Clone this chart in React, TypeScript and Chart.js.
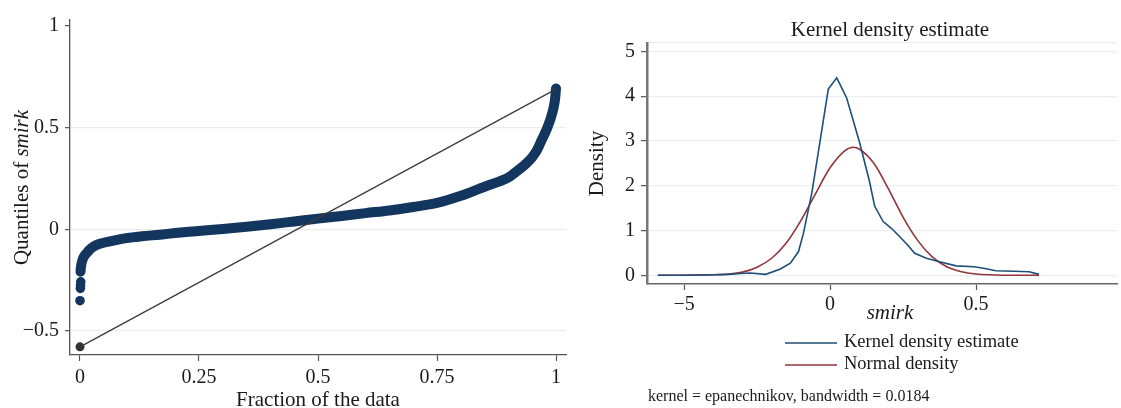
import React, { useEffect, useRef } from "react";
import { Chart, registerables } from "chart.js";

Chart.register(...registerables);

const FONT = "'Liberation Serif', 'DejaVu Serif', serif";
const TEXT = "#1a1a1a";
const NAVY = "#13365f";
const KDE_BLUE = "#1f4e79";
const NORM_RED = "#93343b";

// ---- Left panel: quantile plot of smirk ----
const QUANT_TAIL_FRAC = [0, 0.0008, 0.0012, 0.0016];
const QUANT_TAIL_VAL = [-0.351, -0.29, -0.275, -0.258];
const QUANT_FRAC = [
  0.001, 0.002, 0.004, 0.007, 0.01, 0.014, 0.02, 0.028, 0.04, 0.063, 0.098, 0.13, 0.168, 0.2, 0.238, 0.3,
  0.35, 0.4, 0.45, 0.5, 0.55, 0.6, 0.65, 0.7, 0.75, 0.8, 0.85, 0.88, 0.9, 0.92, 0.94, 0.95, 0.96, 0.97,
  0.98, 0.985, 0.99, 0.995, 0.998, 1.0,
];
const QUANT_VAL = [
  -0.208, -0.185, -0.16, -0.14, -0.128, -0.117, -0.1, -0.085, -0.072, -0.059, -0.043, -0.034, -0.026,
  -0.018, -0.01, 0.002, 0.013, 0.025, 0.039, 0.053, 0.066, 0.08, 0.093, 0.11, 0.13, 0.165, 0.21, 0.235,
  0.255, 0.29, 0.33, 0.355, 0.39, 0.44, 0.49, 0.52, 0.555, 0.6, 0.64, 0.693,
];
const REF_FRAC = [0, 1];
const REF_VAL = [-0.578, 0.69];
const LEFT_Y_TICKS = [-0.5, 0, 0.5, 1];
const LEFT_Y_LABELS = ["\u22120.5", "0", "0.5", "1"];
const LEFT_X_TICKS = [0, 0.25, 0.5, 0.75, 1];
const LEFT_X_LABELS = ["0", "0.25", "0.5", "0.75", "1"];

// ---- Right panel: kernel density estimate ----
const KDE_X = [
  -0.59, -0.5, -0.4, -0.35, -0.307, -0.273, -0.22, -0.17, -0.136, -0.108, -0.091, -0.062, -0.034, -0.006,
  0.023, 0.057, 0.102, 0.135, 0.153, 0.182, 0.21, 0.239, 0.265, 0.29, 0.33, 0.375, 0.432, 0.494, 0.53,
  0.568, 0.63, 0.682, 0.716,
];
const KDE_Y = [
  0.0, 0.0, 0.01, 0.02, 0.04, 0.05, 0.02, 0.14, 0.27, 0.53, 0.94, 1.85, 3.0, 4.16, 4.41, 3.96, 2.95, 2.1,
  1.54, 1.2, 1.05, 0.86, 0.68, 0.49, 0.38, 0.3, 0.21, 0.19, 0.15, 0.1, 0.09, 0.08, 0.02,
];
const NORM_X = [
  -0.59, -0.5, -0.4, -0.35, -0.3, -0.25, -0.2, -0.15, -0.1, -0.05, 0, 0.05, 0.08, 0.1, 0.15, 0.2, 0.25, 0.3,
  0.35, 0.4, 0.45, 0.5, 0.55, 0.6, 0.65, 0.716,
];
const NORM_Y = [
  0.0, 0.0, 0.01, 0.025, 0.07, 0.18, 0.38, 0.72, 1.22, 1.82, 2.4, 2.78, 2.86, 2.82, 2.5, 1.93, 1.3, 0.78,
  0.41, 0.19, 0.08, 0.03, 0.01, 0.0, 0.0, 0.0,
];
const RIGHT_Y_TICKS = [0, 1, 2, 3, 4, 5];
const RIGHT_X_TICKS = [-0.5, 0, 0.5];
const RIGHT_X_LABELS = ["\u22125", "0", "0.5"];
const LEGEND_LABELS = ["Kernel density estimate", "Normal density"];
const NOTE = "kernel = epanechnikov, bandwidth = 0.0184";

const pts = (xs: number[], ys: number[]) => xs.map((x, i) => ({ x, y: ys[i] }));

const leftText = {
  id: "leftText",
  afterDraw(chart: any) {
    const { ctx, chartArea } = chart;
    ctx.save();
    ctx.fillStyle = TEXT;
    ctx.font = `21px ${FONT}`;
    ctx.textAlign = "center";
    ctx.textBaseline = "middle";
    ctx.fillText("Fraction of the data", (chartArea.left + chartArea.right) / 2, 400);
    ctx.translate(22, (chartArea.top + chartArea.bottom) / 2);
    ctx.rotate(-Math.PI / 2);
    const a = "Quantiles of ";
    const b = "smirk";
    ctx.font = `21px ${FONT}`;
    const wa = ctx.measureText(a).width;
    ctx.font = `italic 21px ${FONT}`;
    const wb = ctx.measureText(b).width;
    const start = -(wa + wb) / 2;
    ctx.textAlign = "left";
    ctx.font = `21px ${FONT}`;
    ctx.fillText(a, start, 0);
    ctx.font = `italic 21px ${FONT}`;
    ctx.fillText(b, start + wa, 0);
    ctx.restore();
  },
};

const rightText = {
  id: "rightText",
  afterDraw(chart: any) {
    const { ctx, chartArea } = chart;
    ctx.save();
    ctx.fillStyle = TEXT;
    ctx.textBaseline = "middle";
    ctx.textAlign = "center";
    ctx.font = `21px ${FONT}`;
    ctx.fillText("Kernel density estimate", 315, 30);
    ctx.font = `italic 21px ${FONT}`;
    ctx.fillText("smirk", 315, 313);
    // y title
    ctx.save();
    ctx.translate(22, (chartArea.top + chartArea.bottom) / 2);
    ctx.rotate(-Math.PI / 2);
    ctx.font = `21px ${FONT}`;
    ctx.fillText("Density", 0, 0);
    ctx.restore();
    // legend
    const colors = [KDE_BLUE, NORM_RED];
    const ys = [343, 365];
    ctx.textAlign = "left";
    ctx.font = `18.5px ${FONT}`;
    LEGEND_LABELS.forEach((lab, i) => {
      ctx.strokeStyle = colors[i];
      ctx.lineWidth = 1.6;
      ctx.beginPath();
      ctx.moveTo(210, ys[i]);
      ctx.lineTo(262, ys[i]);
      ctx.stroke();
      ctx.fillStyle = TEXT;
      ctx.fillText(lab, 269, ys[i] - 1);
    });
    ctx.font = `16px ${FONT}`;
    ctx.fillText(NOTE, 73, 397);
    ctx.restore();
  },
};

export default function App() {
  const leftRef = useRef<HTMLCanvasElement>(null);
  const rightRef = useRef<HTMLCanvasElement>(null);

  useEffect(() => {
    const c1 = new Chart(leftRef.current as HTMLCanvasElement, {
      type: "scatter",
      data: {
        datasets: [
          {
            data: pts(REF_FRAC, REF_VAL),
            showLine: true,
            borderColor: "#3c3c3c",
            borderWidth: 1.3,
            pointRadius: (c: any) => (c.dataIndex === 0 ? 4.5 : 0),
            pointBackgroundColor: "#333333",
            pointBorderWidth: 0,
          },
          {
            data: pts(QUANT_FRAC, QUANT_VAL),
            showLine: true,
            borderColor: NAVY,
            borderWidth: 10,
            borderCapStyle: "round",
            borderJoinStyle: "round",
            cubicInterpolationMode: "monotone",
            pointRadius: 0,
          },
          {
            data: pts(QUANT_TAIL_FRAC, QUANT_TAIL_VAL),
            showLine: false,
            pointRadius: 4.8,
            pointBackgroundColor: NAVY,
            pointBorderWidth: 0,
          },
        ],
      } as any,
      options: {
        responsive: false,
        animation: false,
        devicePixelRatio: 1,
        layout: { padding: { top: 20, right: 14, left: 0, bottom: 0 } },
        plugins: { legend: { display: false }, tooltip: { enabled: false } },
        scales: {
          x: {
            type: "linear",
            min: -0.021,
            max: 1.021,
            afterBuildTicks: (s: any) => {
              s.ticks = LEFT_X_TICKS.map((v) => ({ value: v }));
            },
            afterFit: (s: any) => {
              s.height = 53;
            },
            ticks: {
              callback: (v: any) => LEFT_X_LABELS[LEFT_X_TICKS.indexOf(Number(v))],
              font: { family: FONT, size: 20 },
              color: TEXT,
              padding: 5,
              maxRotation: 0,
            },
            grid: { drawOnChartArea: false, tickLength: 6, tickColor: "#555", tickWidth: 1.2 },
            border: { color: "#555", width: 1.3 },
          },
          y: {
            type: "linear",
            min: -0.618,
            max: 1.03,
            afterBuildTicks: (s: any) => {
              s.ticks = LEFT_Y_TICKS.map((v) => ({ value: v }));
            },
            afterFit: (s: any) => {
              s.width = 70;
            },
            ticks: {
              callback: (v: any) => LEFT_Y_LABELS[LEFT_Y_TICKS.indexOf(Number(v))],
              font: { family: FONT, size: 20 },
              color: TEXT,
              padding: 6,
            },
            grid: {
              color: (c: any) => (c.tick && c.tick.value === 1 ? "rgba(0,0,0,0)" : "#ececec"),
              lineWidth: 1.3,
              tickLength: 5,
              tickColor: "#555",
              tickWidth: 1.2,
            },
            border: { color: "#555", width: 1.3 },
          },
        },
      } as any,
      plugins: [leftText],
    });

    const c2 = new Chart(rightRef.current as HTMLCanvasElement, {
      type: "scatter",
      data: {
        datasets: [
          {
            data: pts(KDE_X, KDE_Y),
            showLine: true,
            borderColor: KDE_BLUE,
            borderWidth: 1.6,
            pointRadius: 0,
          },
          {
            data: pts(NORM_X, NORM_Y),
            showLine: true,
            borderColor: NORM_RED,
            borderWidth: 1.6,
            cubicInterpolationMode: "monotone",
            pointRadius: 0,
          },
        ],
      } as any,
      options: {
        responsive: false,
        animation: false,
        devicePixelRatio: 1,
        layout: { padding: { top: 43, right: 4, left: 0, bottom: 0 } },
        plugins: { legend: { display: false }, tooltip: { enabled: false } },
        scales: {
          x: {
            type: "linear",
            min: -0.627,
            max: 0.983,
            afterBuildTicks: (s: any) => {
              s.ticks = RIGHT_X_TICKS.map((v) => ({ value: v }));
            },
            afterFit: (s: any) => {
              s.height = 124;
            },
            ticks: {
              callback: (v: any) => RIGHT_X_LABELS[RIGHT_X_TICKS.indexOf(Number(v))],
              font: { family: FONT, size: 20 },
              color: TEXT,
              padding: 3,
              maxRotation: 0,
            },
            grid: { drawOnChartArea: false, tickLength: 6, tickColor: "#555", tickWidth: 1.2 },
            border: { color: "#666", width: 1.6 },
          },
          y: {
            type: "linear",
            min: -0.195,
            max: 5.188,
            afterBuildTicks: (s: any) => {
              s.ticks = RIGHT_Y_TICKS.concat([5.188]).map((v) => ({ value: v }));
            },
            afterFit: (s: any) => {
              s.width = 72;
            },
            ticks: {
              callback: (v: any) => (Number(v) > 5.1 ? "" : String(v)),
              font: { family: FONT, size: 20 },
              color: TEXT,
              padding: 6,
            },
            grid: {
              color: "#e6eff1",
              lineWidth: 1.3,
              tickLength: 6,
              tickColor: (c: any) => (c.tick && c.tick.value > 5.1 ? "rgba(0,0,0,0)" : "#555"),
              tickWidth: 1.2,
            },
            border: { color: "#777", width: 2.5 },
          },
        },
      } as any,
      plugins: [rightText],
    });

    return () => {
      c1.destroy();
      c2.destroy();
    };
  }, []);

  return (
    <div style={{ position: "absolute", left: 0, top: 0, width: 1121, height: 408, background: "#fff" }}>
      <canvas
        ref={leftRef}
        width={580}
        height={408}
        style={{ position: "absolute", left: 0, top: 0, width: 580, height: 408 }}
      />
      <canvas
        ref={rightRef}
        width={546}
        height={408}
        style={{ position: "absolute", left: 575, top: 0, width: 546, height: 408 }}
      />
    </div>
  );
}
